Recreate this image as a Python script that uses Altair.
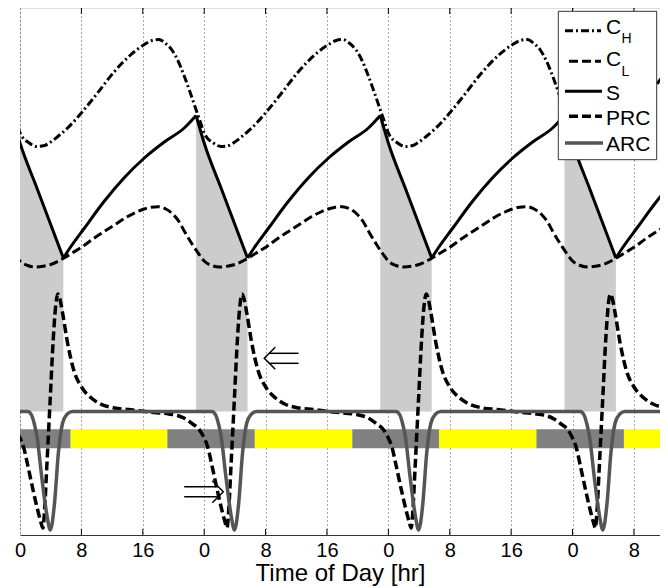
import altair as alt
import pandas as pd

# ---------------- values (hour of day -> curve level) ----------------
CH_HOUR = [0, 1.2, 2.2, 3.2, 4.0, 5.0, 6.2, 8.1, 10.1, 12.25, 14.4, 16.1, 17.2, 18.1, 18.9, 19.8, 20.6, 21.4, 22.2, 23.0, 23.5]
CH_VAL = [402, 392, 388.5, 389.5, 393, 399, 407, 423, 442, 463, 480, 490, 494.5, 495.5, 492, 485, 474, 459, 442, 424, 413]

CL_HOUR = [0, 1.0, 2.0, 3.0, 4.0, 5.66, 7.0, 8.12, 9.5, 10.94, 12.5, 13.98, 15.2, 16.16, 17.1, 18.0, 19.0, 19.9, 20.75, 21.4, 22.5, 23.3]
CL_VAL = [274, 269.5, 268, 268.8, 270.5, 276.7, 283, 288.3, 296, 303.3, 311, 318.3, 323, 326, 327.8, 328.3, 326, 321, 313, 304, 290, 281]

S_FALL_HOUR = [-1.05, 0, 2.25, 5.65]
S_FALL_VAL = [419.5, 392, 346, 277]
S_RISE_HOUR = [5.65, 6.5, 8.4, 10.9, 13.55, 16.2, 18.8, 21.4, 22.95]
S_RISE_VAL = [277, 287, 307, 333, 357, 377, 393, 407, 419.5]

PRC_HOUR = [0, 0.5, 1.0, 1.7, 2.4, 2.75, 2.98, 3.2, 3.47, 3.91, 4.35, 4.6, 4.93, 5.2, 5.55, 6.2, 7.0, 8.1, 9.3, 10.5, 12.3, 14.2, 16.8, 19.4, 20.7, 21.6, 22.5, 23.3, 23.8]
PRC_VAL = [97, 87, 70, 45, 22, 12, 7, 25, 65, 132, 198, 225, 241, 236, 222, 192, 165, 147, 137, 131, 127, 125.5, 123, 121, 119, 116, 111, 106, 100]

ARC_HOUR = [0, 1.0, 1.5, 1.9, 2.2, 2.85, 3.5, 3.95, 4.5, 5.0, 5.55, 6.1, 6.8, 12.0]
ARC_VAL = [123.5, 123.5, 120, 110, 99, 57, 20, 5, 32, 82, 112, 120.5, 123.5, 123.5]

LIGHT_ON = [6.6, 30.6, 54.6, 78.7]
LIGHT_OFF = [19.2, 43.3, 67.3]

TICKS = [0, 8, 16, 24, 32, 40, 48, 56, 64, 72, 80]

ARROW_TIP_T = [31.83, 26.49]
ARROW_TIP_V = [176.7, 43.3]
ARROW_TAIL_T = [36.3, 21.4]

LEGEND_MAIN = ["C", "C", "S", "PRC", "ARC"]
LEGEND_SUB = ["H", "L", "", "", ""]

# ---------------- layout ----------------
X_MAX = 83.4
Y_MAX = 527
W, H = 640, 527
FONT = "Liberation Sans"
DAYS = [-1, 0, 1, 2, 3]
ARC_LEVEL = 123.5


def tile(hours, vals):
    t, v = [], []
    for d in DAYS:
        for h, val in zip(hours, vals):
            t.append(d * 24 + h)
            v.append(val)
    return pd.DataFrame({"t": t, "v": v})


ch_df = tile(CH_HOUR, CH_VAL)
cl_df = tile(CL_HOUR, CL_VAL)
prc_df = tile(PRC_HOUR, PRC_VAL)
arc_df = tile(ARC_HOUR, ARC_VAL)

rows = []
for d in DAYS:
    for h, val in zip(S_FALL_HOUR, S_FALL_VAL):
        rows.append((d * 24 + h, val, f"f{d}"))
    for h, val in zip(S_RISE_HOUR, S_RISE_VAL):
        rows.append((d * 24 + h, val, f"r{d}"))
s_df = pd.DataFrame(rows, columns=["t", "v", "seg"])
sleep_df = s_df[s_df["seg"].str.startswith("f")].copy()
sleep_df["base"] = ARC_LEVEL

# light / dark bar
bounds = [0]
for i in range(len(LIGHT_ON)):
    bounds.append(LIGHT_ON[i])
    if i < len(LIGHT_OFF):
        bounds.append(LIGHT_OFF[i])
bounds.append(X_MAX)
bar_df = pd.DataFrame({
    "t": bounds[:-1],
    "t2": bounds[1:],
    "state": ["dark" if i % 2 == 0 else "light" for i in range(len(bounds) - 1)],
})

# arrows (double arrows)
dx = X_MAX / W
arows = []
for i, (tt, tv, tl) in enumerate(zip(ARROW_TIP_T, ARROW_TIP_V, ARROW_TAIL_T)):
    s = 1 if tl > tt else -1
    arows += [(f"{i}u", 0, tt + s * 5 * dx, tv + 5), (f"{i}u", 1, tl, tv + 5)]
    arows += [(f"{i}l", 0, tt + s * 5 * dx, tv - 5), (f"{i}l", 1, tl, tv - 5)]
    arows += [(f"{i}h", 0, tt + s * 11 * dx, tv + 11), (f"{i}h", 1, tt, tv),
              (f"{i}h", 2, tt + s * 11 * dx, tv - 11)]
arrow_df = pd.DataFrame(arows, columns=["part", "o", "t", "v"])

tick_df = pd.DataFrame({"t": TICKS[1:]})

xscale = alt.Scale(domain=[0, X_MAX], nice=False, zero=False)
yscale = alt.Scale(domain=[0, Y_MAX], nice=False, zero=False)
xaxis = alt.Axis(
    values=TICKS, labelExpr="datum.value % 24", grid=True, gridDash=[1, 3],
    gridColor="#000000", gridOpacity=0.7, gridWidth=1, ticks=False, tickSize=0,
    labelPadding=21, labelBaseline="alphabetic", labelFontSize=20, labelFont=FONT,
    labelColor="#000000", labelFlush=False, title="Time of Day [hr]",
    titleFontSize=24, titleFont=FONT, titleFontWeight="normal", titleColor="#000000",
    titleY=45, titleBaseline="alphabetic", domainColor="#333333", domainWidth=1,
)


def X(field="t"):
    return alt.X(f"{field}:Q", scale=xscale, axis=xaxis)


def Y(field="v"):
    return alt.Y(f"{field}:Q", scale=yscale, axis=None, stack=None)


sleep = alt.Chart(sleep_df).mark_area(color="#cccccc", opacity=1, interpolate="monotone", clip=True).encode(
    x=X(), y=Y(), y2="base:Q", detail="seg:N")

bar = alt.Chart(bar_df).mark_rect(clip=True).encode(
    x=X(), x2="t2:Q", y=alt.value(H - 105.7), y2=alt.value(H - 86.7),
    color=alt.Color("state:N", scale=alt.Scale(domain=["dark", "light"], range=["#808080", "#ffff00"]), legend=None))

ch = alt.Chart(ch_df).mark_line(color="black", strokeWidth=3, strokeDash=[8, 3, 2, 3], interpolate="monotone", clip=True).encode(x=X(), y=Y())
cl = alt.Chart(cl_df).mark_line(color="black", strokeWidth=3, strokeDash=[9, 4], interpolate="monotone", clip=True).encode(x=X(), y=Y())
sline = alt.Chart(s_df).mark_line(color="black", strokeWidth=3, interpolate="monotone", clip=True).encode(x=X(), y=Y(), detail="seg:N")
prc = alt.Chart(prc_df).mark_line(color="black", strokeWidth=3.5, strokeDash=[9, 4], interpolate="monotone", clip=True).encode(x=X(), y=Y())
arc = alt.Chart(arc_df).mark_line(color="#555555", strokeWidth=3.5, interpolate="monotone", clip=True).encode(x=X(), y=Y())

arrows = alt.Chart(arrow_df).mark_line(color="black", strokeWidth=1.5).encode(
    x=X(), y=Y(), detail="part:N", order="o:Q")

ticks_bottom = alt.Chart(tick_df).mark_rule(color="black", strokeWidth=1).encode(
    x=X(), y=alt.value(H), y2=alt.value(H - 6))
ticks_top = alt.Chart(tick_df).mark_rule(color="black", strokeWidth=1).encode(
    x=X(), y=alt.value(0), y2=alt.value(6))

one = pd.DataFrame({"a": [0]})
legend_box = alt.Chart(one).mark_rect(fill="white", stroke="#333333", strokeWidth=1).encode(
    x=alt.value(538.3), x2=alt.value(636.7), y=alt.value(3.3), y2=alt.value(151.7))

leg_y_line = [22.7, 53.3, 83.3, 108.3, 135]
leg_x1 = [545, 549, 545, 549, 545]
leg_x2 = [581, 581, 582, 582, 583]
leg_style = [
    dict(color="black", strokeWidth=3, strokeDash=[8, 3, 2, 3]),
    dict(color="black", strokeWidth=3, strokeDash=[9, 4]),
    dict(color="black", strokeWidth=3),
    dict(color="black", strokeWidth=3.5, strokeDash=[9, 4]),
    dict(color="#555555", strokeWidth=3.5),
]
leg_base = [26, 58.3, 91.7, 117.3, 143.3]
leg_sub_base = [35, 68.3, 0, 0, 0]

legend_layers = [legend_box]
for i in range(5):
    legend_layers.append(alt.Chart(one).mark_rule(**leg_style[i]).encode(
        x=alt.value(leg_x1[i]), x2=alt.value(leg_x2[i]), y=alt.value(leg_y_line[i])))
    legend_layers.append(alt.Chart(one).mark_text(
        text=LEGEND_MAIN[i], align="left", baseline="alphabetic", fontSize=21, font=FONT, color="black").encode(
        x=alt.value(586), y=alt.value(leg_base[i])))
    if LEGEND_SUB[i]:
        legend_layers.append(alt.Chart(one).mark_text(
            text=LEGEND_SUB[i], align="left", baseline="alphabetic", fontSize=14, font=FONT, color="black").encode(
            x=alt.value(601.5), y=alt.value(leg_sub_base[i])))

chart = alt.layer(
    sleep, bar, ch, cl, sline, prc, arc, arrows, ticks_bottom, ticks_top, *legend_layers
).properties(
    width=W, height=H,
    padding={"left": 12, "top": 0, "right": 0, "bottom": 53},
    autosize=alt.AutoSizeParams(type="none"),
).configure_view(stroke="#777777", strokeWidth=1).configure(background="white")

chart.save("out.html", embed_options={"renderer": "svg", "actions": False})
